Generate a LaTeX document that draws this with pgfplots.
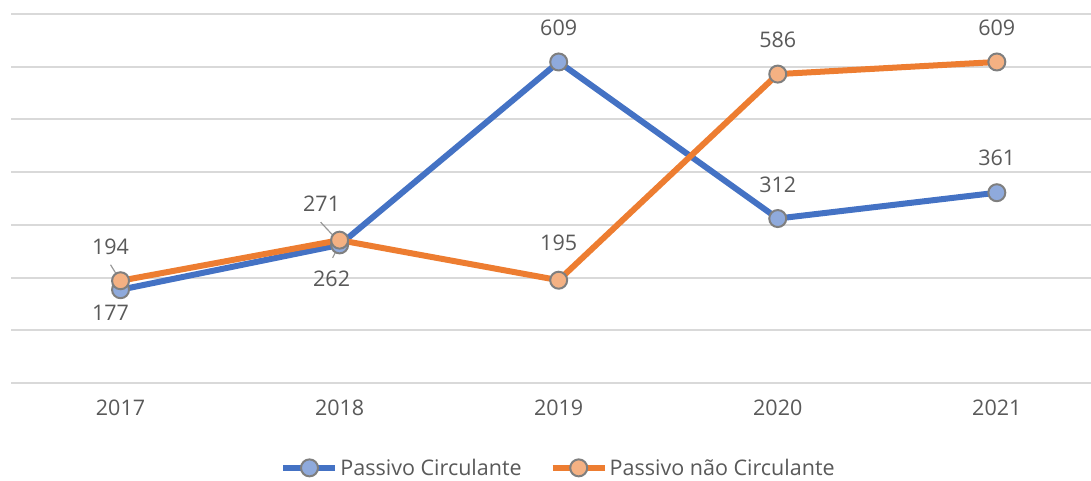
\documentclass[border=0pt]{standalone}
\usepackage{fontspec}
\setmainfont{Open Sans}
\usepackage{pgfplots}
\pgfplotsset{compat=1.18}
\definecolor{pcblue}{HTML}{4472C4}
\definecolor{pcorange}{HTML}{ED7D31}
\definecolor{pcbluefill}{HTML}{8FAADC}
\definecolor{pcorangefill}{HTML}{F4B183}
\definecolor{markgray}{HTML}{7F7F7F}
\definecolor{labelgray}{HTML}{595959}
\definecolor{gridgray}{HTML}{D9D9D9}

\pgfplotstableread{
x y lab dx dy
0 177 177 -10 -23
1 262 262 -8 -34
2 609 609 0 34
3 312 312 0 34
4 361 361 0 35
}\circulante
\pgfplotstableread{
x y lab dx dy
0 194 194 -10 34
1 271 271 -18 36
2 195 195 0 37
3 586 586 0 34
4 609 609 0 34
}\naocirculante

\begin{document}
\begin{tikzpicture}
\begin{axis}[
  at={(11pt,97pt)}, anchor=south west,
  scale only axis, width=1080pt, height=369pt,
  xmin=-0.5, xmax=4.43, ymin=0, ymax=700,
  axis line style={draw=none},
  ytick={0,100,...,700}, yticklabels={},
  ymajorgrids, grid style={gridgray, line width=2pt},
  xtick={0,1,2,3,4}, xticklabels={2017,2018,2019,2020,2021},
  major tick length=0pt,
  /pgf/number format/assume math mode=true,
  tick label style={font=\fontsize{21.5}{25}\selectfont, text=labelgray},
  xticklabel style={yshift=-13pt},
  clip=false,
  legend columns=2,
  legend style={draw=none, at={(0.507,-0.23)}, anchor=center,
    font=\fontsize{21.5}{25}\selectfont, text=labelgray,
    /tikz/every even column/.append style={column sep=26pt}},
  legend image code/.code={%
    \draw[mark repeat=2,mark phase=2,#1] plot coordinates {(0pt,0pt) (26pt,0pt) (52pt,0pt)};},
  point meta=explicit symbolic,
  nodes near coords={\pgfplotspointmeta},
  visualization depends on={\thisrow{dx} \as \dx},
  visualization depends on={\thisrow{dy} \as \dy},
  every node near coord/.append style={anchor=center, xshift=\dx pt, yshift=\dy pt,
    font=\fontsize{21.5}{25}\selectfont, text=labelgray},
]
\addplot[pcblue, line width=6pt, mark=*, mark size=8.5pt,
  mark options={fill=pcbluefill, draw=markgray, line width=2pt}]
  table[x=x, y=y, meta=lab] {\circulante};
\addlegendentry{Passivo Circulante}
\addplot[pcorange, line width=6pt, mark=*, mark size=8.5pt,
  mark options={fill=pcorangefill, draw=markgray, line width=2pt}]
  table[x=x, y=y, meta=lab] {\naocirculante};
\addlegendentry{Passivo não Circulante}
% leader lines of the shifted labels
\draw[markgray!80, line width=1.2pt] ([xshift=-10pt,yshift=16pt]axis cs:0,194) -- ([xshift=-2pt,yshift=3pt]axis cs:0,194);
\draw[markgray!80, line width=1.2pt] ([xshift=-19pt,yshift=18pt]axis cs:1,271) -- ([xshift=-5pt,yshift=3pt]axis cs:1,271);
\draw[markgray!80, line width=1.2pt] ([xshift=-7pt,yshift=-13pt]axis cs:1,262) -- ([xshift=-3pt,yshift=-5pt]axis cs:1,262);
\end{axis}
\pgfresetboundingbox
\useasboundingbox (0,0) rectangle (1091pt,480pt);
\end{tikzpicture}
\end{document}
